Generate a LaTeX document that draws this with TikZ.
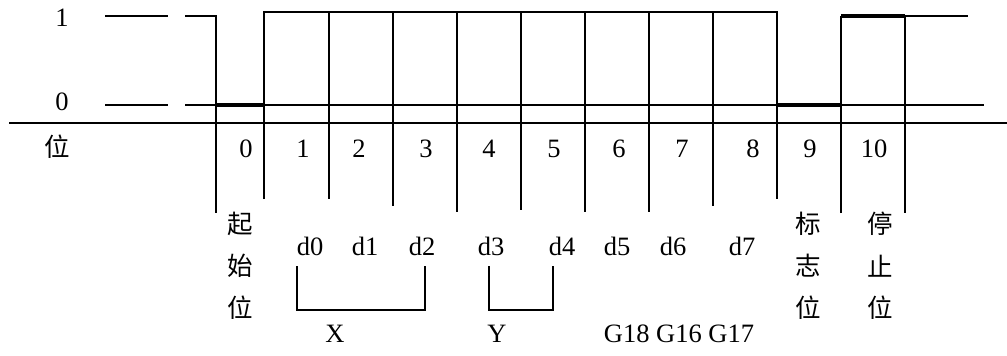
\documentclass[tikz,border=0pt]{standalone}
\usepackage{fontspec}
\setmainfont{Liberation Serif}
\newfontfamily\cjk{Noto Sans CJK SC}
\begin{document}
\begin{tikzpicture}[x=1pt,y=-1pt,
  wire/.style={line width=1.8pt},
  heavy/.style={line width=4pt},
  lbl/.style={font=\fontsize{26.5}{30}\selectfont, inner sep=0pt},
  cjklbl/.style={font=\cjk\fontsize{25.5}{29}\selectfont, inner sep=0pt}]
\useasboundingbox (0,0) rectangle (1007,356);
% level labels
\node[lbl] (one) at (62,18) {1};
\node[lbl] (zero) at (62,102) {0};
\node[cjklbl] (wei) at (57,147) {位};
% axis
\draw[wire] (9,123) -- (1007,123);
% idle levels (dashed lead-in)
\draw[wire] (105,16) -- (168,16);
\draw[wire] (185,16) -- (216,16) -- (216,213);
\draw[wire] (105,105) -- (168,105);
\draw[wire] (185,105) -- (216,105);
\draw[heavy] (216,105) -- (264,105);
% data frame
\draw[wire] (264,199) -- (264,12) -- (777,12) -- (777,199);
\foreach \x/\b in {329/199, 393/206, 457/212, 521/210, 585/212, 649/212, 713/206}
  \draw[wire] (\x,12) -- (\x,\b);
\draw[wire] (264,105) -- (777,105);
\draw[heavy] (777,105) -- (841,105);
\draw[wire] (841,105) -- (984,105);
\draw[wire] (841,213) -- (841,16);
\draw[heavy] (841,16) -- (905,16);
\draw[wire] (905,16) -- (968,16);
\draw[wire] (905,16) -- (905,213);
% bit numbers
\foreach \x/\t [count=\i] in {246/0, 303/1, 359/2, 426/3, 489/4, 554/5, 619/6, 682/7, 753/8, 810/9, 874/10}
  \node[lbl] (bit\i) at (\x,149) {\t};
% bottom vertical labels
\node[cjklbl] (qi) at (240,224) {起};
\node[cjklbl] (shi) at (240,266) {始};
\node[cjklbl] (wei1) at (240,308) {位};
\node[cjklbl] (biao) at (808,224) {标};
\node[cjklbl] (zhi) at (808,266) {志};
\node[cjklbl] (wei2) at (808,308) {位};
\node[cjklbl] (ting) at (880,224) {停};
\node[cjklbl] (zhi2) at (880,266) {止};
\node[cjklbl] (wei3) at (880,308) {位};
% data bit labels
\foreach \x/\t [count=\i] in {310/d0, 365/d1, 422/d2, 491/d3, 562/d4, 617/d5, 673/d6, 742/d7}
  \node[lbl] (d\i) at (\x,246) {\t};
% brackets
\draw[wire] (297,266) -- (297,310) -- (425,310) -- (425,266);
\draw[wire] (489,266) -- (489,310) -- (553,310) -- (553,266);
\node[lbl] (X) at (335,334) {X};
\node[lbl] (Y) at (497,334) {Y};
\node[lbl] (G) at (679,334) {G18 G16 G17};
\end{tikzpicture}
\end{document}
